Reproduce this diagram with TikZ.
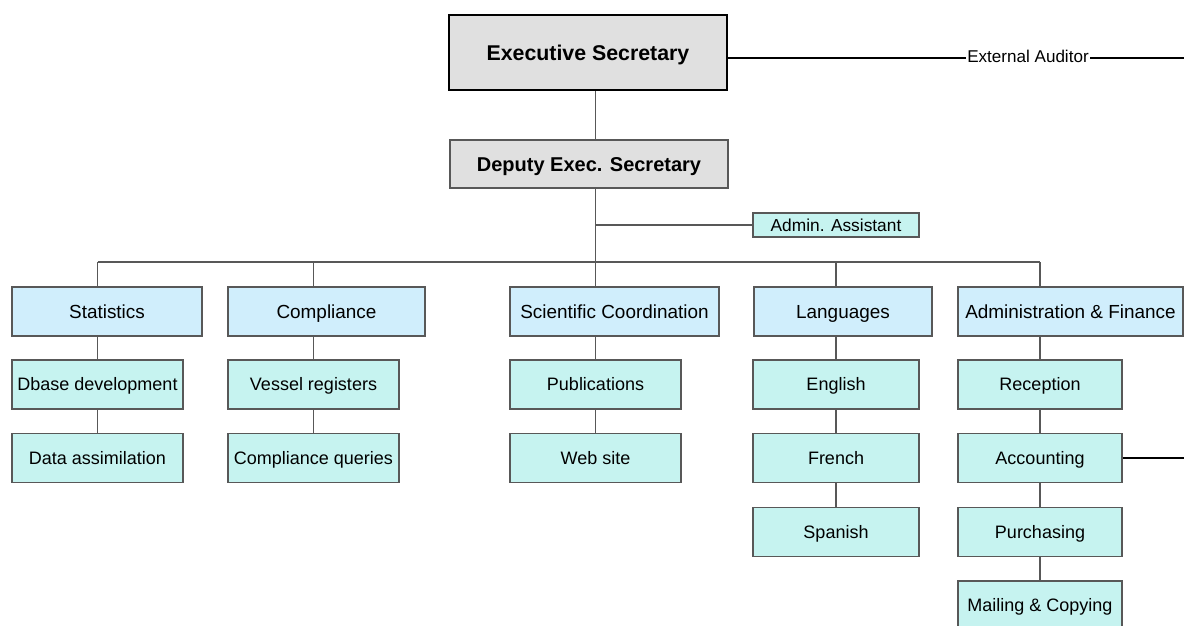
\documentclass[tikz,border=0pt]{standalone}
\usepackage{fontspec}
\setmainfont{Liberation Sans}
\usepackage{tikz}

\definecolor{boxgrey}{RGB}{224,224,224}
\definecolor{unitblue}{RGB}{208,238,252}
\definecolor{subcyan}{RGB}{198,243,240}
\definecolor{linegrey}{RGB}{88,88,88}

\begin{document}
\begin{tikzpicture}[x=0.75pt,y=0.75pt,yscale=-1,xscale=1,
  every node/.style={text depth=0pt},
  headbox/.style={draw=black,line width=1.5pt,fill=boxgrey,inner sep=0pt,text height=11.5pt,
    minimum width=208.5pt,minimum height=56.25pt,font=\fontsize{16}{19}\selectfont\bfseries},
  deputybox/.style={draw=linegrey,line width=1.1pt,fill=boxgrey,inner sep=0pt,text height=10.7pt,
    minimum width=208.5pt,minimum height=36pt,font=\fontsize{15}{18}\selectfont\bfseries},
  unitbox/.style={draw=linegrey,line width=1.1pt,fill=unitblue,inner sep=0pt,text height=10.2pt,
    minimum height=36.75pt,font=\fontsize{14.2}{17}\selectfont},
  subbox/.style={draw=linegrey,line width=1.1pt,fill=subcyan,inner sep=0pt,text height=9.7pt,
    minimum height=36.75pt,minimum width=128.25pt,font=\fontsize{13.5}{16}\selectfont},
  link/.style={draw=linegrey,line width=1.1pt},
  blackline/.style={draw=black,line width=1.1pt}]
%set diagram size 1184 x 625
\useasboundingbox (0,0) rectangle (1184,625);

%Head nodes
\node (exec) at (588,52.5) [headbox] {Executive Secretary};
\node (deputy) at (589,164) [deputybox] {Deputy Exec. Secretary};
\node (asst) at (836,225) [subbox,minimum width=124.5pt,minimum height=18pt,text height=9.3pt,
  font=\fontsize{13}{15}\selectfont] {Admin. Assistant};
\node (auditor) at (1028,56.5) [inner sep=1pt,text height=9.2pt,font=\fontsize{12.8}{15}\selectfont] {External Auditor};
\coordinate (auditend) at (1184,58);
\coordinate (bus) at (595.5,262);

%Unit nodes
\node (stats) at (107,311.5) [unitbox,minimum width=142.5pt] {Statistics};
\node (comp) at (326.5,311.5) [unitbox,minimum width=147.75pt] {Compliance};
\node (sci) at (614.5,311.5) [unitbox,minimum width=156.75pt] {Scientific Coordination};
\node (lang) at (843,311.5) [unitbox,minimum width=133.5pt] {Languages};
\node (admfin) at (1070.5,311.5) [unitbox,minimum width=168.75pt] {Administration \& Finance};

%Sub nodes
\node (dbase) at (97.5,384.5) [subbox] {Dbase development};
\node (datas) at (97.5,458) [subbox] {Data assimilation};
\node (vessel) at (313.5,384.5) [subbox] {Vessel registers};
\node (cquery) at (313.5,458) [subbox] {Compliance queries};
\node (pub) at (595.5,384.5) [subbox] {Publications};
\node (web) at (595.5,458) [subbox] {Web site};
\node (eng) at (836,384.5) [subbox,minimum width=124.5pt] {English};
\node (french) at (836,458) [subbox,minimum width=124.5pt] {French};
\node (spanish) at (836,532) [subbox,minimum width=124.5pt] {Spanish};
\node (recep) at (1040,384.5) [subbox,minimum width=123pt] {Reception};
\node (acct) at (1040,458) [subbox,minimum width=123pt] {Accounting};
\node (purch) at (1040,532) [subbox,minimum width=123pt] {Purchasing};
\node (mail) at (1040,605.5) [subbox,minimum width=123pt] {Mailing \& Copying};
\coordinate (acctend) at (1184,458);

%Straight Lines
\draw [blackline] (exec.east |- auditend) -- (auditor.west |- auditend);
\draw [blackline] (auditor.east |- auditend) -- (auditend);
\draw [link] (exec.south -| bus) -- (deputy.north -| bus);
\draw [link] (deputy.south -| bus) -- (bus);
\draw [link] (asst.west) -- (asst.west -| bus);
\draw [link] (dbase |- bus) -- (recep |- bus);
\foreach \unit/\first in {stats/dbase,comp/vessel,sci/pub,lang/eng,admfin/recep}
  \draw [link] (\first |- bus) -- (\unit.north -| \first)
               (\unit.south -| \first) -- (\first.north);
\foreach \upper/\lower in {dbase/datas,vessel/cquery,pub/web,eng/french,french/spanish,
  recep/acct,acct/purch,purch/mail}
  \draw [link] (\upper.south) -- (\lower.north);
\draw [blackline] (acct.east) -- (acctend);

\end{tikzpicture}
\end{document}
